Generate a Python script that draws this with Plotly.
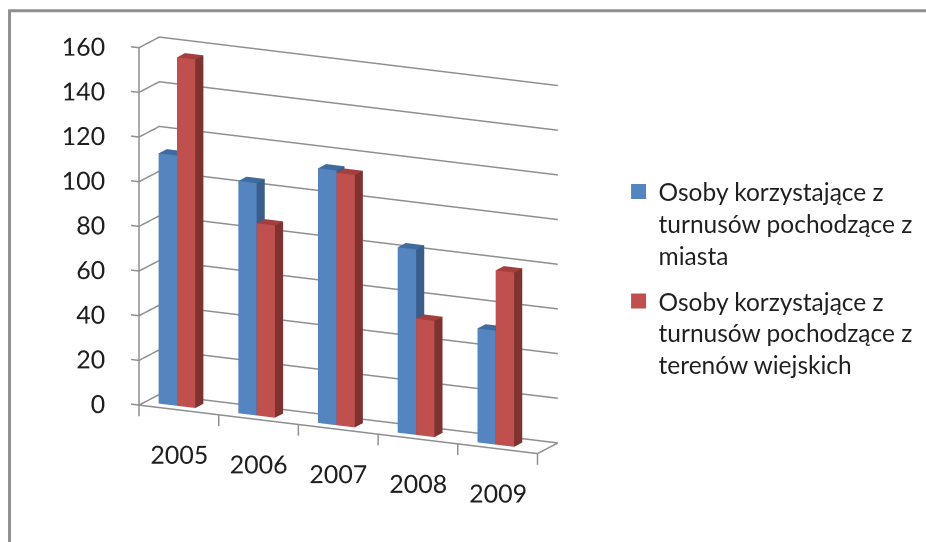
import plotly.graph_objects as go

years = ["2005", "2006", "2007", "2008", "2009"]
miasta = [112, 104, 114, 83, 51]
wies = [156, 86, 113, 52, 78]
yticks = [0, 20, 40, 60, 80, 100, 120, 140, 160]
name_a = "Osoby korzystające z<br>turnusów pochodzące z<br>miasta"
name_b = "Osoby korzystające z<br>turnusów pochodzące z<br>terenów wiejskich"
BLUE = ("#5585c0", "#3a5d8b", "#3f6c9f")
RED = ("#c0504d", "#7f3331", "#a33f3c")
GRID = "#8f8f8f"
TEXT = "#1f1f1f"
FONT = "Lato"
NC = len(years)
BAR_START, BAR_W = 0.17, 0.23
D0, D1 = 0.3, 0.7
fig = go.Figure()


def bar(x0, v, cols):
    x = [x0, x0 + BAR_W, x0 + BAR_W, x0, x0, x0 + BAR_W, x0 + BAR_W, x0]
    y = [D0, D0, D1, D1, D0, D0, D1, D1]
    z = [0, 0, 0, 0, v, v, v, v]
    front, side, top = cols
    return go.Mesh3d(
        x=x, y=y, z=z, showlegend=False, hoverinfo="skip", flatshading=True,
        i=[4, 4, 0, 0, 1, 1, 2, 2, 3, 3, 0, 0],
        j=[5, 6, 1, 5, 2, 6, 3, 7, 0, 4, 1, 2],
        k=[6, 7, 5, 4, 6, 5, 7, 6, 4, 7, 2, 3],
        facecolor=[top, top, front, front, side, side, side, side, side, side, side, side],
        lighting=dict(ambient=1, diffuse=0, specular=0, fresnel=0, roughness=1),
    )


def line(xs, ys, zs, width=3):
    return go.Scatter3d(x=xs, y=ys, z=zs, mode="lines", showlegend=False, hoverinfo="skip",
                        line=dict(color=GRID, width=width))


for t in yticks:
    fig.add_trace(line([-0.1, 0, 0, NC], [0, 0, 1, 1], [t, t, t, t]))
fig.add_trace(line([0, 0], [0, 0], [yticks[0], yticks[-1]]))
fig.add_trace(line([0, NC, NC], [0, 0, 1], [0, 0, 0]))
for n in range(NC + 1):
    fig.add_trace(line([n, n], [0, 0], [0, -5]))

for n in range(NC):
    fig.add_trace(bar(n + BAR_START, miasta[n], BLUE))
    fig.add_trace(bar(n + BAR_START + BAR_W, wies[n], RED))

fig.add_trace(go.Scatter3d(
    x=[n + 0.5 for n in range(NC)], y=[0] * NC, z=[-20] * NC, mode="text", text=years,
    textposition="middle center",
    textfont=dict(size=25, family=FONT, color=TEXT), showlegend=False, hoverinfo="skip"))
fig.add_trace(go.Scatter3d(
    x=[-0.12] * len(yticks), y=[0] * len(yticks), z=yticks, mode="text",
    text=[str(t) for t in yticks], textposition="middle left",
    textfont=dict(size=25, family=FONT, color=TEXT), showlegend=False, hoverinfo="skip"))

for nm, c, g in ((name_a, BLUE[0], "a"), (name_b, RED[0], "b")):
    fig.add_trace(go.Scatter(x=[None], y=[None], mode="markers", name=nm, legendgroup=g,
                             marker=dict(symbol="square", size=15, color=c)))

hidden = dict(visible=False, showbackground=False, showspikes=False, title="")
fig.update_layout(
    template="none",
    width=926, height=542,
    margin=dict(l=0, r=0, t=0, b=0),
    paper_bgcolor="white", plot_bgcolor="white",
    font=dict(family=FONT, size=24.5, color=TEXT),
    xaxis=dict(visible=False), yaxis=dict(visible=False),
    legend=dict(x=0.668, y=0.688, yanchor="top", xanchor="left", bgcolor="rgba(0,0,0,0)",
                font=dict(size=24.5), tracegroupgap=11, itemwidth=30, valign="top"),
    scene=dict(
        domain=dict(x=[0, 0.71], y=[0, 0.96]),
        xaxis=dict(hidden, range=[-0.6, NC + 0.1]),
        yaxis=dict(hidden, range=[0, 1]),
        zaxis=dict(hidden, range=[-40, 165]),
        aspectmode="manual", aspectratio=dict(x=1.94, y=0.18, z=1.82),
        camera=dict(eye=dict(x=0.55, y=-1.14, z=0.33), center=dict(x=0, y=0, z=0),
                    projection=dict(type="orthographic")),
    ),
    shapes=[dict(type="rect", xref="paper", yref="paper", x0=0.0103, x1=1.2, y0=-0.2, y1=0.98,
                 line=dict(color=GRID, width=3), fillcolor="rgba(0,0,0,0)", layer="above")],
)
fig.write_html("out.html", config=dict(displayModeBar=False),
               post_script="document.body.style.margin='0';")
